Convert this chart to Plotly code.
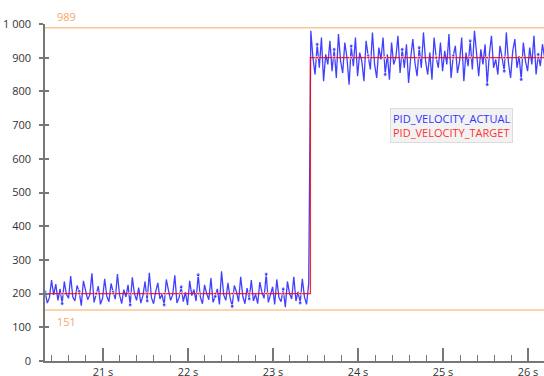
import numpy as np
import plotly.graph_objects as go

# ---- data ----
t_start = 20.32          # s, first sample
dt = 0.025               # s, sample spacing
step_time = 23.44        # s, target step
target_low = 200
target_high = 900
limit_high = 989
limit_low = 151

actual_low = [
    205, 172, 188, 240, 196, 228, 180, 214, 170, 236,
    198, 186, 252, 190, 178, 224, 206, 164, 238, 210,
    182, 196, 260, 174, 200, 222, 168, 186, 244, 192,
    176, 230, 204, 184, 258, 196, 170, 212, 190, 226,
    166, 248, 200, 180, 218, 172, 194, 236, 178, 262,
    188, 170, 206, 232, 184, 198, 166, 242, 210, 180,
    196, 254, 172, 188, 220, 176, 204, 166, 238, 194,
    212, 178, 256, 190, 170, 226, 200, 182, 246, 174,
    192, 214, 168, 266, 196, 180, 232, 188, 162, 224,
    206, 176, 250, 192, 170, 216, 184, 240, 178, 198,
    170, 234, 204, 186, 258, 174, 196, 220, 168, 242,
    188, 176, 214, 160, 236, 200, 184, 250, 178, 206,
    172, 244, 190, 168, 230,
]
actual_high = [
    980, 900, 850, 940, 870, 960, 830, 910, 880, 950,
    860, 925, 840, 970, 890, 855, 945, 900, 820, 935,
    875, 960, 845, 915, 890, 830, 950, 905, 865, 975,
    880, 840, 930, 895, 960, 850, 910, 835, 945, 880,
    900, 965, 855, 925, 870, 940, 825, 900, 955, 885,
    845, 930, 870, 975, 890, 850, 915, 835, 960, 900,
    870, 945, 860, 920, 880, 970, 840, 905, 935, 855,
    890, 960, 830, 915, 875, 950, 865, 980, 900, 845,
    925, 880, 940, 820, 910, 965, 870, 895, 850, 935,
    900, 860, 975, 885, 840, 920, 955, 870, 905, 835,
    945, 890, 860, 930, 880, 965, 850, 910, 875, 940,
    900,
]
x_ticks = [21, 22, 23, 24, 25, 26]
x_tick_labels = ["21 s", "22 s", "23 s", "24 s", "25 s", "26 s"]
y_ticks = [0, 100, 200, 300, 400, 500, 600, 700, 800, 900, 1000]

actual = actual_low + actual_high
times = t_start + dt * np.arange(len(actual))
n_low = int((times < step_time).sum())
marker_every = 8
sizes = [4 if i % marker_every == 0 else 0 for i in range(len(actual))]

# target drawn as a step at step_time
t_tgt = list(times[:n_low]) + [step_time, step_time] + list(times[n_low:])
v_tgt = [target_low] * n_low + [target_low, target_high] + [target_high] * (len(times) - n_low)
sizes_tgt = [3 if i % marker_every == 0 else 0 for i in range(n_low)] + [0, 0] + \
            [3 if i % marker_every == 0 else 0 for i in range(n_low, len(times))]

fig = go.Figure()
fig.add_trace(go.Scatter(
    x=times, y=actual, mode="lines+markers", name="PID_VELOCITY_ACTUAL",
    line=dict(color="rgba(0,0,255,0.75)", width=1.3),
    marker=dict(size=sizes, color="rgba(0,0,255,0.75)"),
))
fig.add_trace(go.Scatter(
    x=t_tgt, y=v_tgt, mode="lines+markers", name="PID_VELOCITY_TARGET",
    line=dict(color="rgba(255,0,0,0.85)", width=1.3),
    marker=dict(size=sizes_tgt, color="rgba(255,0,0,0.85)"),
))
# helper trace for the inner-tick overlay axis
fig.add_trace(go.Scatter(x=[None], y=[None], yaxis="y2", showlegend=False, hoverinfo="skip"))

orange_line = "#ffc48f"
orange_text = "#f7a865"
for val in (limit_high, limit_low):
    fig.add_shape(type="line", xref="paper", x0=0, x1=1, yref="y", y0=val, y1=val,
                  line=dict(color=orange_line, width=1.5), layer="below")
fig.add_annotation(xref="paper", x=0.02, yref="y", y=limit_high, yanchor="bottom", xanchor="left",
                   yshift=2, text=str(limit_high), showarrow=False, font=dict(color=orange_text, size=11))
fig.add_annotation(xref="paper", x=0.02, yref="y", y=limit_low, yanchor="top", xanchor="left",
                   yshift=-2, text=str(limit_low), showarrow=False, font=dict(color=orange_text, size=11))

# legend box
fig.add_annotation(
    xref="x", x=24.38, yref="y", y=750, xanchor="left", yanchor="top", align="left",
    text="<span style='color:#3333ff'>PID_VELOCITY_ACTUAL</span><br>"
         "<span style='color:#ff3333'>PID_VELOCITY_TARGET</span>",
    showarrow=False, bgcolor="#f2f2f2", bordercolor="#dcdcdc", borderwidth=1, borderpad=2,
    font=dict(size=11),
)

fig.update_layout(
    width=544, height=376,
    margin=dict(l=45, r=0, t=24, b=15),
    paper_bgcolor="white", plot_bgcolor="white",
    showlegend=False,
    separators=". ",
    font=dict(family="Open Sans", size=11, color="#333"),
    xaxis=dict(
        range=[20.318, 26.188], tickvals=x_ticks, ticktext=x_tick_labels, automargin=False,
        showgrid=False, zeroline=False, showline=True, linecolor="#777", linewidth=1.5,
        ticks="inside", ticklen=13, tickcolor="#777", tickwidth=1.5,
        minor=dict(dtick=0.2, ticks="inside", ticklen=6, tickcolor="#777", tickwidth=1, showgrid=False),
    ),
    yaxis=dict(
        range=[0, 1000], tickvals=y_ticks, separatethousands=True, automargin=False,
        showgrid=False, zeroline=False, showline=True, linecolor="#777", linewidth=1.5,
        ticks="outside", ticklen=4, tickcolor="#777", tickwidth=1.5, ticklabelstandoff=6,
    ),
    yaxis2=dict(
        range=[0, 1000], tickvals=y_ticks, overlaying="y", side="left", automargin=False,
        showticklabels=False, showgrid=False, zeroline=False, showline=False,
        ticks="inside", ticklen=4, tickcolor="#777", tickwidth=1.5,
    ),
)

fig.write_html("out.html", config={"displayModeBar": False},
               post_script="document.body.style.margin='0';document.body.style.overflow='hidden';")
